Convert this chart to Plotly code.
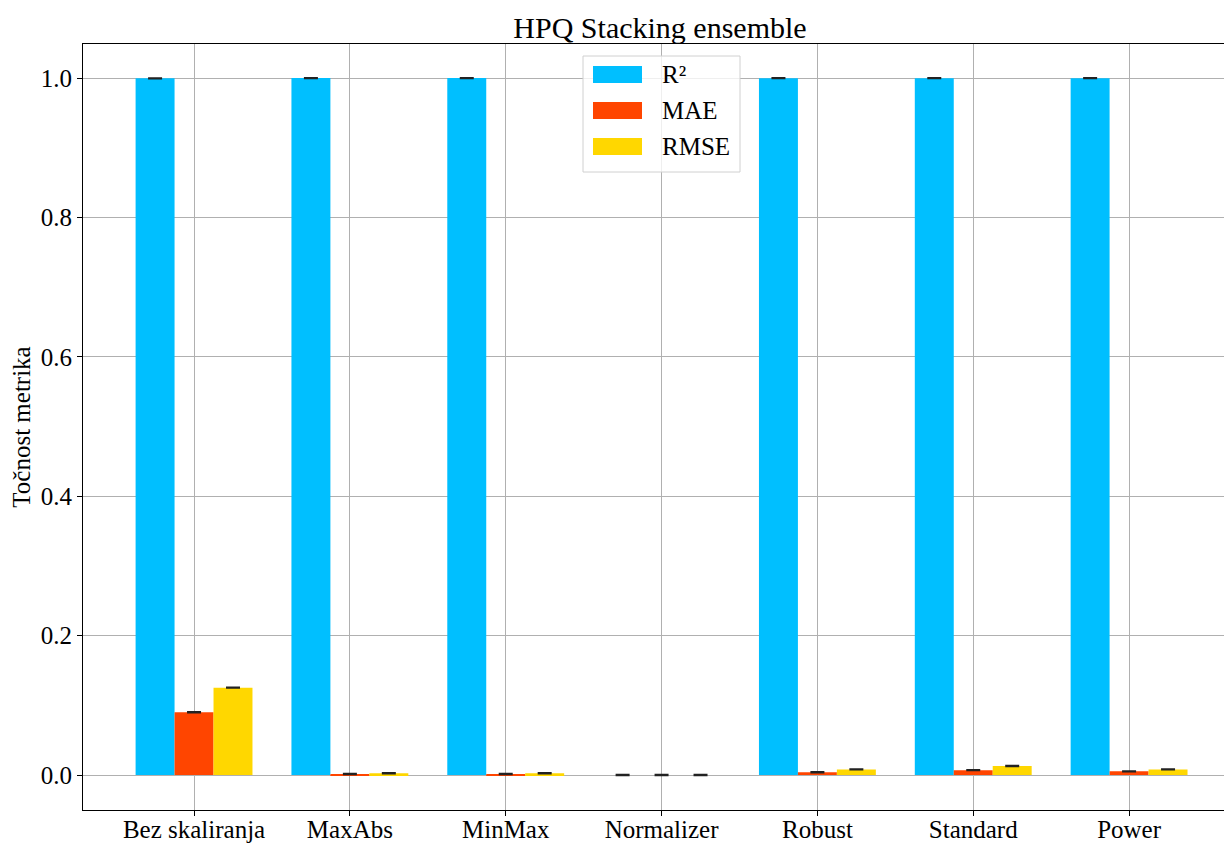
import plotly.graph_objects as go

categories = ["Bez skaliranja", "MaxAbs", "MinMax", "Normalizer", "Robust", "Standard", "Power"]
r2_values = [0.9995, 0.9999, 0.9999, 0.0, 0.9998, 0.9997, 0.9998]
mae_values = [0.090, 0.0015, 0.0015, 0.0, 0.004, 0.007, 0.0053]
rmse_values = [0.1253, 0.0025, 0.0025, 0.0, 0.008, 0.013, 0.008]
r2_err = [0.0004, 0.0003, 0.0003, 0.0004, 0.0003, 0.0003, 0.0003]
mae_err = [0.0004, 0.0004, 0.0004, 0.0004, 0.0004, 0.0004, 0.0004]
rmse_err = [0.0004, 0.0004, 0.0004, 0.0004, 0.0004, 0.0004, 0.0004]
series_names = ["R²", "MAE", "RMSE"]
series_colors = ["#00BFFF", "#FF4500", "#FFD700"]

series = list(zip(series_names, [r2_values, mae_values, rmse_values],
                  [r2_err, mae_err, rmse_err], series_colors))

idx = list(range(len(categories)))
offsets = [-0.25, 0.0, 0.25]

# figure is placed at an 8px page offset (body margin)
W, H = 1224, 835
L, T, R, B = 75, 36, 1, 33
pw, ph = W - L - R, H - T - B

fig = go.Figure()
for (name, vals, errs, color), off in zip(series, offsets):
    fig.add_trace(go.Bar(
        x=[i + off for i in idx], y=vals, name=name, width=0.25,
        marker=dict(color=color, line=dict(width=0)),
        error_y=dict(type="data", array=errs, visible=True, color="#222222", thickness=1.8, width=7),
        showlegend=False,
    ))

font = "Liberation Serif, Times New Roman, serif"

# custom legend (matplotlib-like wide patches), positioned in paper coordinates
def px_x(px):
    return (px - 8 - L) / pw

def px_y(py):
    return (H - B - (py - 8)) / ph

shapes = [dict(type="rect", xref="paper", yref="paper",
               x0=px_x(583), x1=px_x(740), y0=px_y(172), y1=px_y(56),
               line=dict(color="#d0d0d0", width=1), fillcolor="rgba(255,255,255,0.8)", layer="above")]
annotations = []
patch_tops = [66, 102, 138]
for (name, color), top in zip(zip(series_names, series_colors), patch_tops):
    shapes.append(dict(type="rect", xref="paper", yref="paper",
                       x0=px_x(593), x1=px_x(642), y0=px_y(top + 17), y1=px_y(top),
                       line=dict(width=0), fillcolor=color, layer="above"))
    annotations.append(dict(text=name, xref="paper", yref="paper", x=px_x(660), y=px_y(top + 8.5),
                            xanchor="left", yanchor="middle", showarrow=False,
                            font=dict(size=25, family=font, color="black")))

fig.update_layout(
    width=W, height=H,
    margin=dict(l=L, r=R, t=T, b=B, autoexpand=False),
    plot_bgcolor="white", paper_bgcolor="white",
    font=dict(family=font, size=25, color="black"),
    title=dict(text="HPQ Stacking ensemble", x=px_x(660), xref="paper", xanchor="center",
               y=1 - 19 / H, yanchor="middle", font=dict(size=30, family=font, color="black")),
    barmode="overlay",
    showlegend=False,
    shapes=shapes,
    annotations=annotations,
)
fig.update_xaxes(
    range=[-0.7125, 6.654], tickvals=idx, ticktext=categories,
    showgrid=True, gridcolor="#b0b0b0", gridwidth=1,
    showline=True, linecolor="black", linewidth=1.2, mirror=True,
    ticks="outside", ticklen=5, tickcolor="black", layer="above traces",
    tickfont=dict(size=25, family=font), zeroline=False, automargin=False,
    ticklabelstandoff=-8,
)
fig.update_yaxes(
    range=[-0.0502, 1.0488], tickvals=[0, 0.2, 0.4, 0.6, 0.8, 1.0], tickformat=".1f",
    showgrid=True, gridcolor="#b0b0b0", gridwidth=1,
    showline=True, linecolor="black", linewidth=1.2, mirror=False,
    ticks="outside", ticklen=5, tickcolor="black", layer="above traces",
    title=dict(text="Točnost metrika", font=dict(size=25, family=font), standoff=6),
    tickfont=dict(size=25, family=font), zeroline=False, automargin=False,
)

fig.write_html("out.html")
